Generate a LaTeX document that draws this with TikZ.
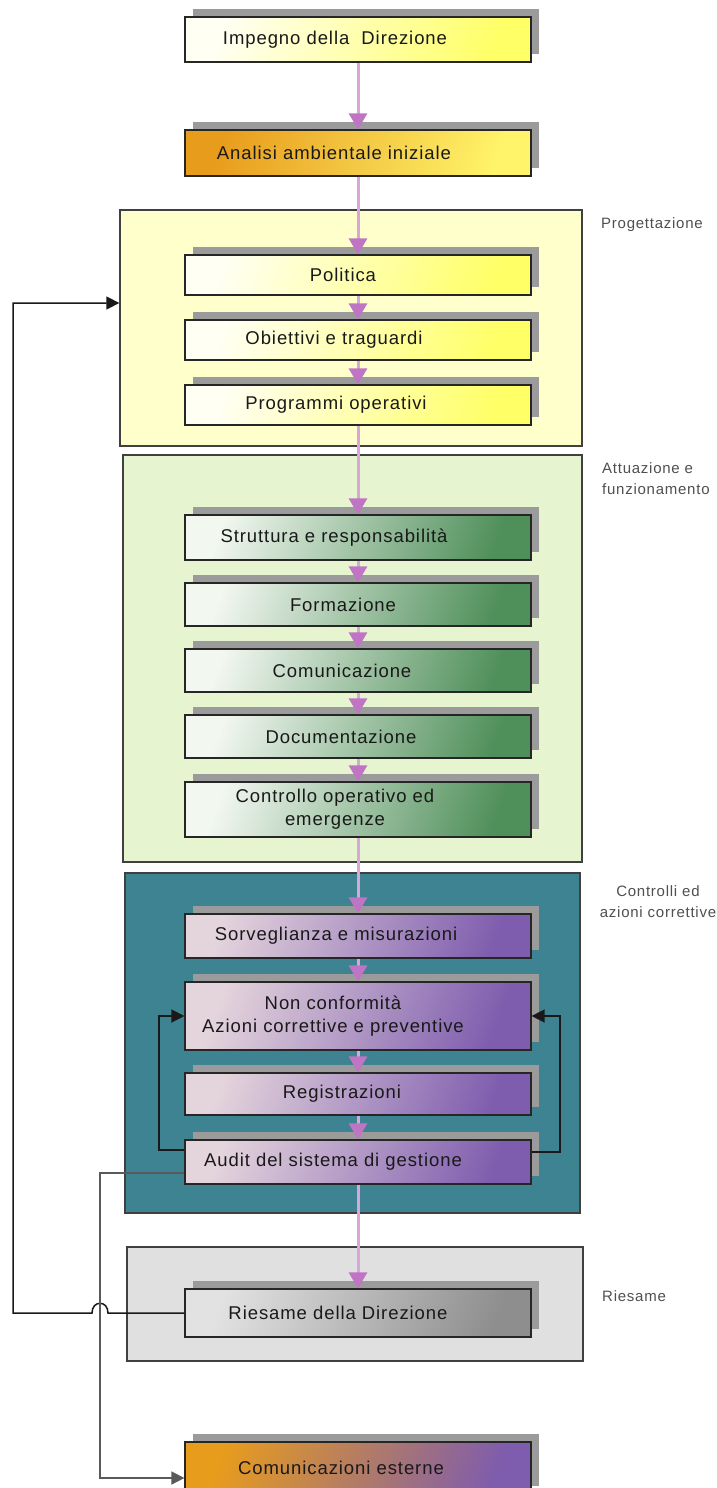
\documentclass[tikz,border=0pt]{standalone}
\usepackage{fontspec}
\setmainfont{Liberation Sans}[LetterSpace=5]
\newfontfamily\sidefont{Liberation Sans}[LetterSpace=5]
\usetikzlibrary{arrows.meta,shadows}

\definecolor{shadowc}{HTML}{9B9B9B}
\definecolor{yelL}{HTML}{FFFFF4}
\definecolor{yelR}{HTML}{FFFF66}
\definecolor{orgL}{HTML}{E89C1C}
\definecolor{orgR}{HTML}{FFF46A}
\definecolor{grnL}{HTML}{F2F7F0}
\definecolor{grnR}{HTML}{4F8F5A}
\definecolor{purL}{HTML}{E4D4DC}
\definecolor{purR}{HTML}{7E5CAE}
\definecolor{gryL}{HTML}{E2E2E2}
\definecolor{gryR}{HTML}{8E8E8E}
\definecolor{fYel}{HTML}{FFFFCC}
\definecolor{fGrn}{HTML}{E6F5D0}
\definecolor{fTeal}{HTML}{3E8391}
\definecolor{fGry}{HTML}{E0E0E0}
\definecolor{flowline}{HTML}{D9A6D9}
\definecolor{flowhead}{HTML}{C074C4}
\definecolor{sidetext}{HTML}{505050}

\begin{document}
\begin{tikzpicture}[x=1pt,y=-1pt,
  frame/.style={draw=black!75, line width=1.3pt, inner sep=0pt},
  stepbox/.style={draw=black!85, line width=1.2pt, minimum width=346pt,
    inner sep=0pt, shading angle=70,
    general shadow={fill=shadowc, shadow xshift=8pt, shadow yshift=8pt}},
  yelbox/.style={stepbox, left color=yelL, right color=yelR, shading angle=70},
  orgbox/.style={stepbox, left color=orgL, right color=orgR, shading angle=70},
  grnbox/.style={stepbox, left color=grnL, right color=grnR, shading angle=70},
  purbox/.style={stepbox, left color=purL, right color=purR, shading angle=70},
  grybox/.style={stepbox, left color=gryL, right color=gryR, shading angle=70},
  extbox/.style={stepbox, left color=orgL, right color=purR, shading angle=70},
  boxtext/.style={font=\fontsize{18.5}{23}\selectfont, align=center, inner sep=0pt, text=black!90},
  sidelabel/.style={font=\sidefont\fontsize{15}{21}\selectfont, text=sidetext, inner sep=0pt},
  flow/.style={draw=flowline, line width=3pt,
    -{Triangle[length=16pt, width=18pt, color=flowhead]}},
  conn/.style={draw=black!90, line width=1.5pt,
    -{Triangle[length=13pt, width=13pt]}},
]
\useasboundingbox (0,0) rectangle (716,1488);
\fill[white] (0,0) rectangle (716,1488);

% phase frames
\node[frame, fill=fYel, minimum width=462pt, minimum height=236pt] (fP) at (351,328) {};
\node[frame, fill=fGrn, minimum width=459pt, minimum height=407pt] (fA) at (352.5,658.5) {};
\node[frame, fill=fTeal, minimum width=455pt, minimum height=340pt] (fC) at (352.5,1043) {};
\node[frame, fill=fGry, minimum width=456pt, minimum height=114pt] (fR) at (355,1304) {};

% phase labels
\node[sidelabel, anchor=west] (lP) at (601,225) {Progettazione};
\node[sidelabel, anchor=west, align=left] (lA) at (602,479) {Attuazione e\\funzionamento};
\node[sidelabel, align=center] (lC) at (658,902) {Controlli ed\\azioni correttive};
\node[sidelabel, anchor=west] (lR) at (602,1296) {Riesame};

% process steps
\node[yelbox, minimum height=45pt] (b1) at (358,39.5) {};
\node[orgbox, minimum height=46pt] (b2) at (358,153) {};
\node[yelbox, minimum height=40pt] (p1) at (358,275) {};
\node[yelbox, minimum height=40pt] (p2) at (358,340) {};
\node[yelbox, minimum height=40pt] (p3) at (358,405) {};
\node[grnbox, minimum height=45pt] (a1) at (358,537.5) {};
\node[grnbox, minimum height=43pt] (a2) at (358,604.5) {};
\node[grnbox, minimum height=43pt] (a3) at (358,670.5) {};
\node[grnbox, minimum height=43pt] (a4) at (358,736.5) {};
\node[grnbox, minimum height=55pt] (a5) at (358,809.5) {};
\node[purbox, minimum height=44pt] (c1) at (358,936) {};
\node[purbox, minimum height=68pt] (nc) at (358,1016) {};
\node[purbox, minimum height=42pt] (c3) at (358,1094) {};
\node[purbox, minimum height=44pt] (au) at (358,1162) {};
\node[grybox, minimum height=48pt] (rd) at (358,1313) {};
\node[extbox, minimum height=52pt] (ce) at (358,1468) {};

% step texts
\node[boxtext] (b1t) at (335,39.5) {Impegno della~~Direzione};
\node[boxtext] (b2t) at (334,153) {Analisi ambientale iniziale};
\node[boxtext] (p1t) at (343,275) {Politica};
\node[boxtext] (p2t) at (334,340) {Obiettivi e traguardi};
\node[boxtext] (p3t) at (336,405) {Programmi operativi};
\node[boxtext] (a1t) at (334,537.5) {Struttura e responsabilità};
\node[boxtext] (a2t) at (343,604.5) {Formazione};
\node[boxtext] (a3t) at (342,670.5) {Comunicazione};
\node[boxtext] (a4t) at (341,736.5) {Documentazione};
\node[boxtext] (a5t) at (335,809.5) {Controllo operativo ed\\emergenze};
\node[boxtext] (c1t) at (336,936) {Sorveglianza e misurazioni};
\node[boxtext] (nct) at (333,1016) {Non conformità\\Azioni correttive e preventive};
\node[boxtext] (c3t) at (342,1094) {Registrazioni};
\node[boxtext] (aut) at (333,1162) {Audit del sistema di gestione};
\node[boxtext] (rdt) at (338,1313) {Riesame della Direzione};
\node[boxtext] (cet) at (341,1468) {Comunicazioni esterne};

% main flow
\draw[flow] (b1) -- (b2);
\draw[flow] (b2) -- (p1);
\draw[flow] (p1) -- (p2);
\draw[flow] (p2) -- (p3);
\draw[flow] (p3) -- (a1);
\draw[flow] (a1) -- (a2);
\draw[flow] (a2) -- (a3);
\draw[flow] (a3) -- (a4);
\draw[flow] (a4) -- (a5);
\draw[flow] (a5) -- (c1);
\draw[flow] (c1) -- (nc);
\draw[flow] (nc) -- (c3);
\draw[flow] (c3) -- (au);
\draw[flow] (au) -- (rd);

% feedback loops (the long return line hops over the line to the external box)
\coordinate (pin) at (fP.west |- 0,303);
\draw[conn] (rd.west) -- (108,1313)
  .. controls (108,1300) and (92,1300) .. (92,1313)
  -- (13,1313) |- (pin);
\draw[conn] (au.west |- 0,1150) -- (159,1150) |- (nc.west);
\draw[conn] (au.east |- 0,1152) -- (560,1152) |- (nc.east);
\draw[conn, draw=black!65] (au.west |- 0,1173) -- (100,1173) |- (ce.west |- 0,1478);
\end{tikzpicture}
\end{document}
